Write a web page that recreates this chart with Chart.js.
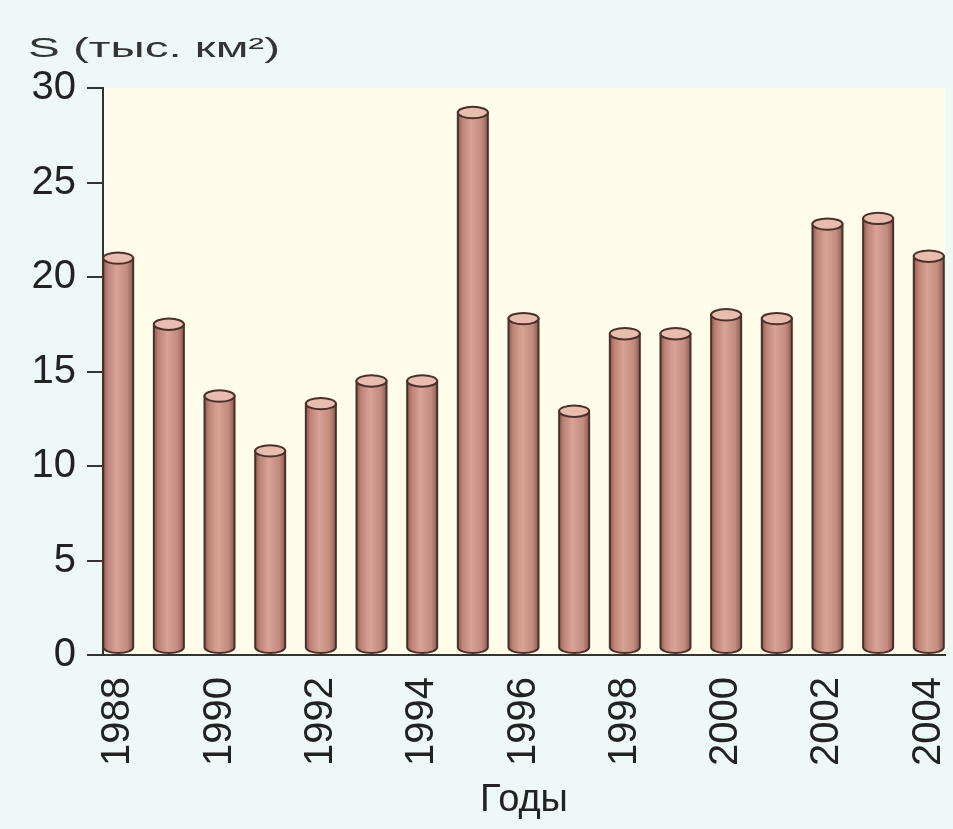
<!DOCTYPE html>
<html>
<head>
<meta charset="utf-8">
<script src="https://cdn.jsdelivr.net/npm/chart.js@4.4.1/dist/chart.umd.min.js"></script>
<style>
  html, body { margin: 0; padding: 0; background: #eef8f6; }
  #wrap { width: 953px; height: 829px; }
</style>
</head>
<body>
<div id="wrap"><canvas id="myChart" width="953" height="829"></canvas></div>
<script>
// Burned area per year (thousand km2)
const years = [1988, 1989, 1990, 1991, 1992, 1993, 1994, 1995, 1996,
  1997, 1998, 1999, 2000, 2001, 2002, 2003, 2004];
const areaValues = [21, 17.5, 13.7, 10.8, 13.3, 14.5, 14.5, 28.7, 17.8,
  12.9, 17, 17, 18, 17.8, 22.8, 23.1, 21.1];
const yTicks = [0, 5, 10, 15, 20, 25, 30];
const xTickYears = [1988, 1990, 1992, 1994, 1996, 1998, 2000, 2002, 2004];
const yTitle = "S (тыс. км²)";
const xTitle = "Годы";

const fontFamily = "'Liberation Sans', Arial, sans-serif";
const inkColor = "#222";

// Paint the page and the cream plot area
const backgroundPlugin = {
  id: "backgrounds",
  beforeDraw(chart) {
    const { ctx, chartArea } = chart;
    ctx.save();
    ctx.fillStyle = "#eef8f6";
    ctx.fillRect(0, 0, chart.width, chart.height);
    ctx.fillStyle = "#fffde9";
    ctx.fillRect(chartArea.left, chartArea.top,
      chartArea.right - chartArea.left, chartArea.bottom - chartArea.top);
    ctx.restore();
  }
};

// Draw each bar as a cylinder, using the bar elements placed by the scales
const cylinderPlugin = {
  id: "cylinders",
  afterDatasetsDraw(chart) {
    const { ctx } = chart;
    const meta = chart.getDatasetMeta(0);
    ctx.save();
    meta.data.forEach((bar) => {
      const rx = bar.width / 2;
      const ry = rx * 0.38;
      const x = bar.x;
      const top = bar.y;
      const base = bar.base - 1;

      const grad = ctx.createLinearGradient(x - rx, 0, x + rx, 0);
      grad.addColorStop(0, "#8c5a50");
      grad.addColorStop(0.15, "#bd8377");
      grad.addColorStop(0.45, "#d9a296");
      grad.addColorStop(0.8, "#c38b80");
      grad.addColorStop(1, "#8a5a50");

      // body with rounded bottom
      ctx.beginPath();
      ctx.moveTo(x - rx, top);
      ctx.lineTo(x - rx, base - ry);
      ctx.ellipse(x, base - ry, rx, ry, 0, Math.PI, 0, true);
      ctx.lineTo(x + rx, top);
      ctx.closePath();
      ctx.fillStyle = grad;
      ctx.fill();
      ctx.lineWidth = 2;
      ctx.strokeStyle = "#4a3028";
      ctx.stroke();

      // top cap
      ctx.beginPath();
      ctx.ellipse(x, top, rx, ry, 0, 0, Math.PI * 2);
      ctx.fillStyle = "#e8bcae";
      ctx.fill();
      ctx.stroke();
    });
    ctx.restore();
  }
};

// Horizontal axis title at the top left, wide lettering as in the original
const yTitlePlugin = {
  id: "yTitle",
  afterDraw(chart) {
    const { ctx } = chart;
    ctx.save();
    ctx.font = "28px " + fontFamily;
    ctx.fillStyle = "#333";
    ctx.textBaseline = "alphabetic";
    const w = ctx.measureText(yTitle).width;
    const sx = 252 / w;
    ctx.translate(28, 57);
    ctx.scale(sx, 1);
    ctx.fillText(yTitle, 0, 0);
    ctx.restore();
  }
};

new Chart("myChart", {
  type: "bar",
  data: {
    datasets: [
      {
        data: years.map((yr, i) => ({ x: yr, y: areaValues[i] })),
        backgroundColor: "rgba(0,0,0,0)",
        borderWidth: 0,
        barThickness: 30
      }
    ]
  },
  options: {
    responsive: false,
    animation: false,
    layout: { padding: { top: 88, right: 8, left: 0, bottom: 0 } },
    plugins: {
      legend: { display: false },
      tooltip: { enabled: false }
    },
    scales: {
      x: {
        type: "linear",
        offset: false,
        min: 1987.7,
        max: 2004.32,
        afterBuildTicks: (s) => { s.ticks = xTickYears.map((v) => ({ value: v })); },
        afterFit: (s) => {
          s.height = 174;
          s.paddingLeft = 0;
          s.paddingRight = 0;
        },
        ticks: {
          autoSkip: false,
          minRotation: 90,
          maxRotation: 90,
          padding: 14,
          color: inkColor,
          font: { family: fontFamily, size: 40 },
          callback: (v) => String(v)
        },
        grid: { display: false, offset: false },
        border: { display: true, color: "#333", width: 2 },
        title: {
          display: true,
          text: xTitle,
          color: inkColor,
          font: { family: fontFamily, size: 38 },
          padding: { top: 0, bottom: 6 }
        }
      },
      y: {
        min: 0,
        max: 30,
        afterBuildTicks: (s) => { s.ticks = yTicks.map((v) => ({ value: v })); },
        afterFit: (s) => { s.width = 103; },
        ticks: {
          padding: 11,
          color: inkColor,
          font: { family: fontFamily, size: 40 }
        },
        grid: {
          drawOnChartArea: false,
          drawTicks: true,
          tickLength: 16,
          color: "#333",
          lineWidth: 2
        },
        border: { display: true, color: "#333", width: 2 }
      }
    }
  },
  plugins: [backgroundPlugin, cylinderPlugin, yTitlePlugin]
});
</script>
</body>
</html>
